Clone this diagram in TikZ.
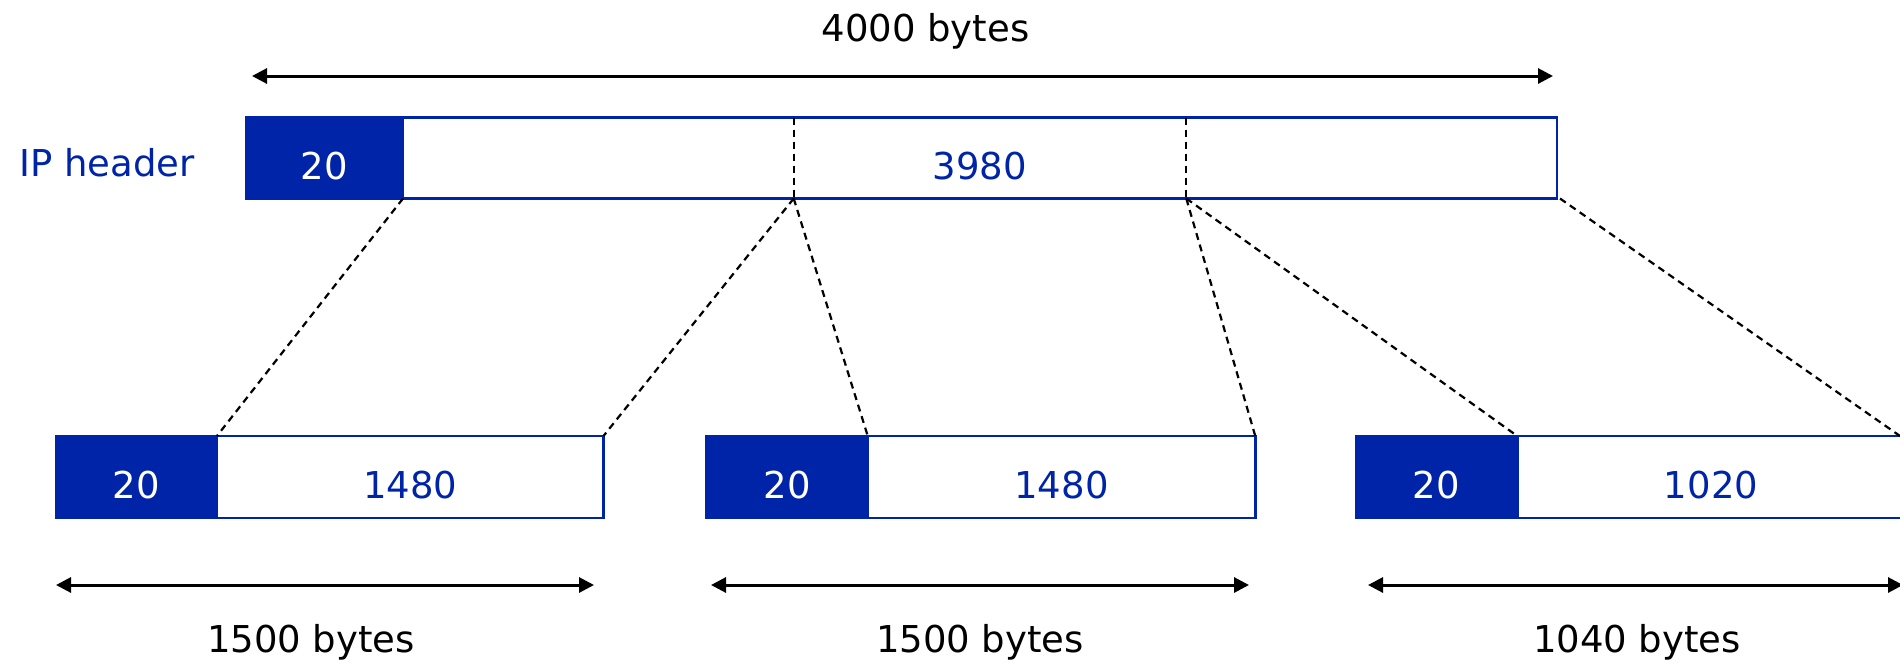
\documentclass[tikz,border=0pt]{standalone}
\usepackage{fontspec}
\setmainfont{DejaVu Sans}
\usetikzlibrary{arrows.meta}
\definecolor{ipblue}{RGB}{0,36,168}
\tikzset{
  x=1pt, y=-1pt,
  txt/.style={font=\fontsize{37}{44}\selectfont},
  seg/.style={txt, draw=ipblue, line width=2.5pt, inner sep=0pt, outer sep=0pt,
              text height=42pt, text depth=0pt},
  hdrbox/.style={seg, fill=ipblue, text=white},
  databox/.style={seg, fill=white, text=ipblue},
  split/.style={black, line width=2.2pt, dash pattern=on 7pt off 5pt},
  span/.style={black, line width=3pt, {Triangle[length=15pt,width=15pt]}-{Triangle[length=15pt,width=15pt]}},
}
\begin{document}
\begin{tikzpicture}
\useasboundingbox (0,0) rectangle (1900,665);
\clip (0,0) rectangle (1900,665);

% original datagram
\node[hdrbox, minimum width=157pt, minimum height=81pt] (h0) at (324.5,158) {20};
\node[databox, minimum width=1154pt, minimum height=81pt] (d0) at (980,158) {3980};
\node[txt, text=ipblue, anchor=base west, inner sep=0pt] (iph) at (19,176.7) {IP header};

% cut positions inside the payload
\coordinate (c1t) at (d0.north west -| 793.7,0);
\coordinate (c1b) at (d0.south west -| 793.7,0);
\coordinate (c2t) at (d0.north west -| 1186.3,0);
\coordinate (c2b) at (d0.south west -| 1186.3,0);
\draw[split] (c1t) -- (c1b);
\draw[split] (c2t) -- (c2b);

% total length
\coordinate (t0l) at (252,76);
\coordinate (t0r) at (1553,76);
\draw[span] (t0l) -- (t0r);
\node[txt, anchor=base, inner sep=0pt] (t0) at (925.5,41.7) {4000 bytes};

% fragments
\node[hdrbox, minimum width=161pt, minimum height=82pt] (h1) at (136.3,477) {20};
\node[databox, minimum width=386.5pt, minimum height=82pt] (d1) at (410.2,477) {1480};
\node[hdrbox, minimum width=161pt, minimum height=82pt] (h2) at (787,477) {20};
\node[databox, minimum width=387.5pt, minimum height=82pt] (d2) at (1061.5,477) {1480};
\node[hdrbox, minimum width=161pt, minimum height=82pt] (h3) at (1436.5,477) {20};
\node[databox, minimum width=387.5pt, minimum height=82pt] (d3) at (1711,477) {1020};

% payload pieces traced back to the original
\coordinate (e0) at ([xshift=3pt]d0.south east);
\coordinate (f3) at (1900,436);
\draw[split] (d0.south west) -- (d1.north west);
\draw[split] (c1b) -- (d1.north east);
\draw[split] (c1b) -- (d2.north west);
\draw[split] (c2b) -- (d2.north east);
\draw[split] (c2b) -- (d3.north west);
\draw[split] (e0) -- (f3);

% fragment lengths
\coordinate (a1l) at (56,585);  \coordinate (a1r) at (594,585);
\coordinate (a2l) at (711,585); \coordinate (a2r) at (1249,585);
\coordinate (a3l) at (1368,585); \coordinate (a3r) at (1903,585);
\draw[span] (a1l) -- (a1r);
\draw[span] (a2l) -- (a2r);
\draw[span] (a3l) -- (a3r);
\node[txt, anchor=base, inner sep=0pt] (l1) at (311,652.7) {1500 bytes};
\node[txt, anchor=base, inner sep=0pt] (l2) at (980,652.7) {1500 bytes};
\node[txt, anchor=base, inner sep=0pt] (l3) at (1637,652.7) {1040 bytes};
\end{tikzpicture}
\end{document}
